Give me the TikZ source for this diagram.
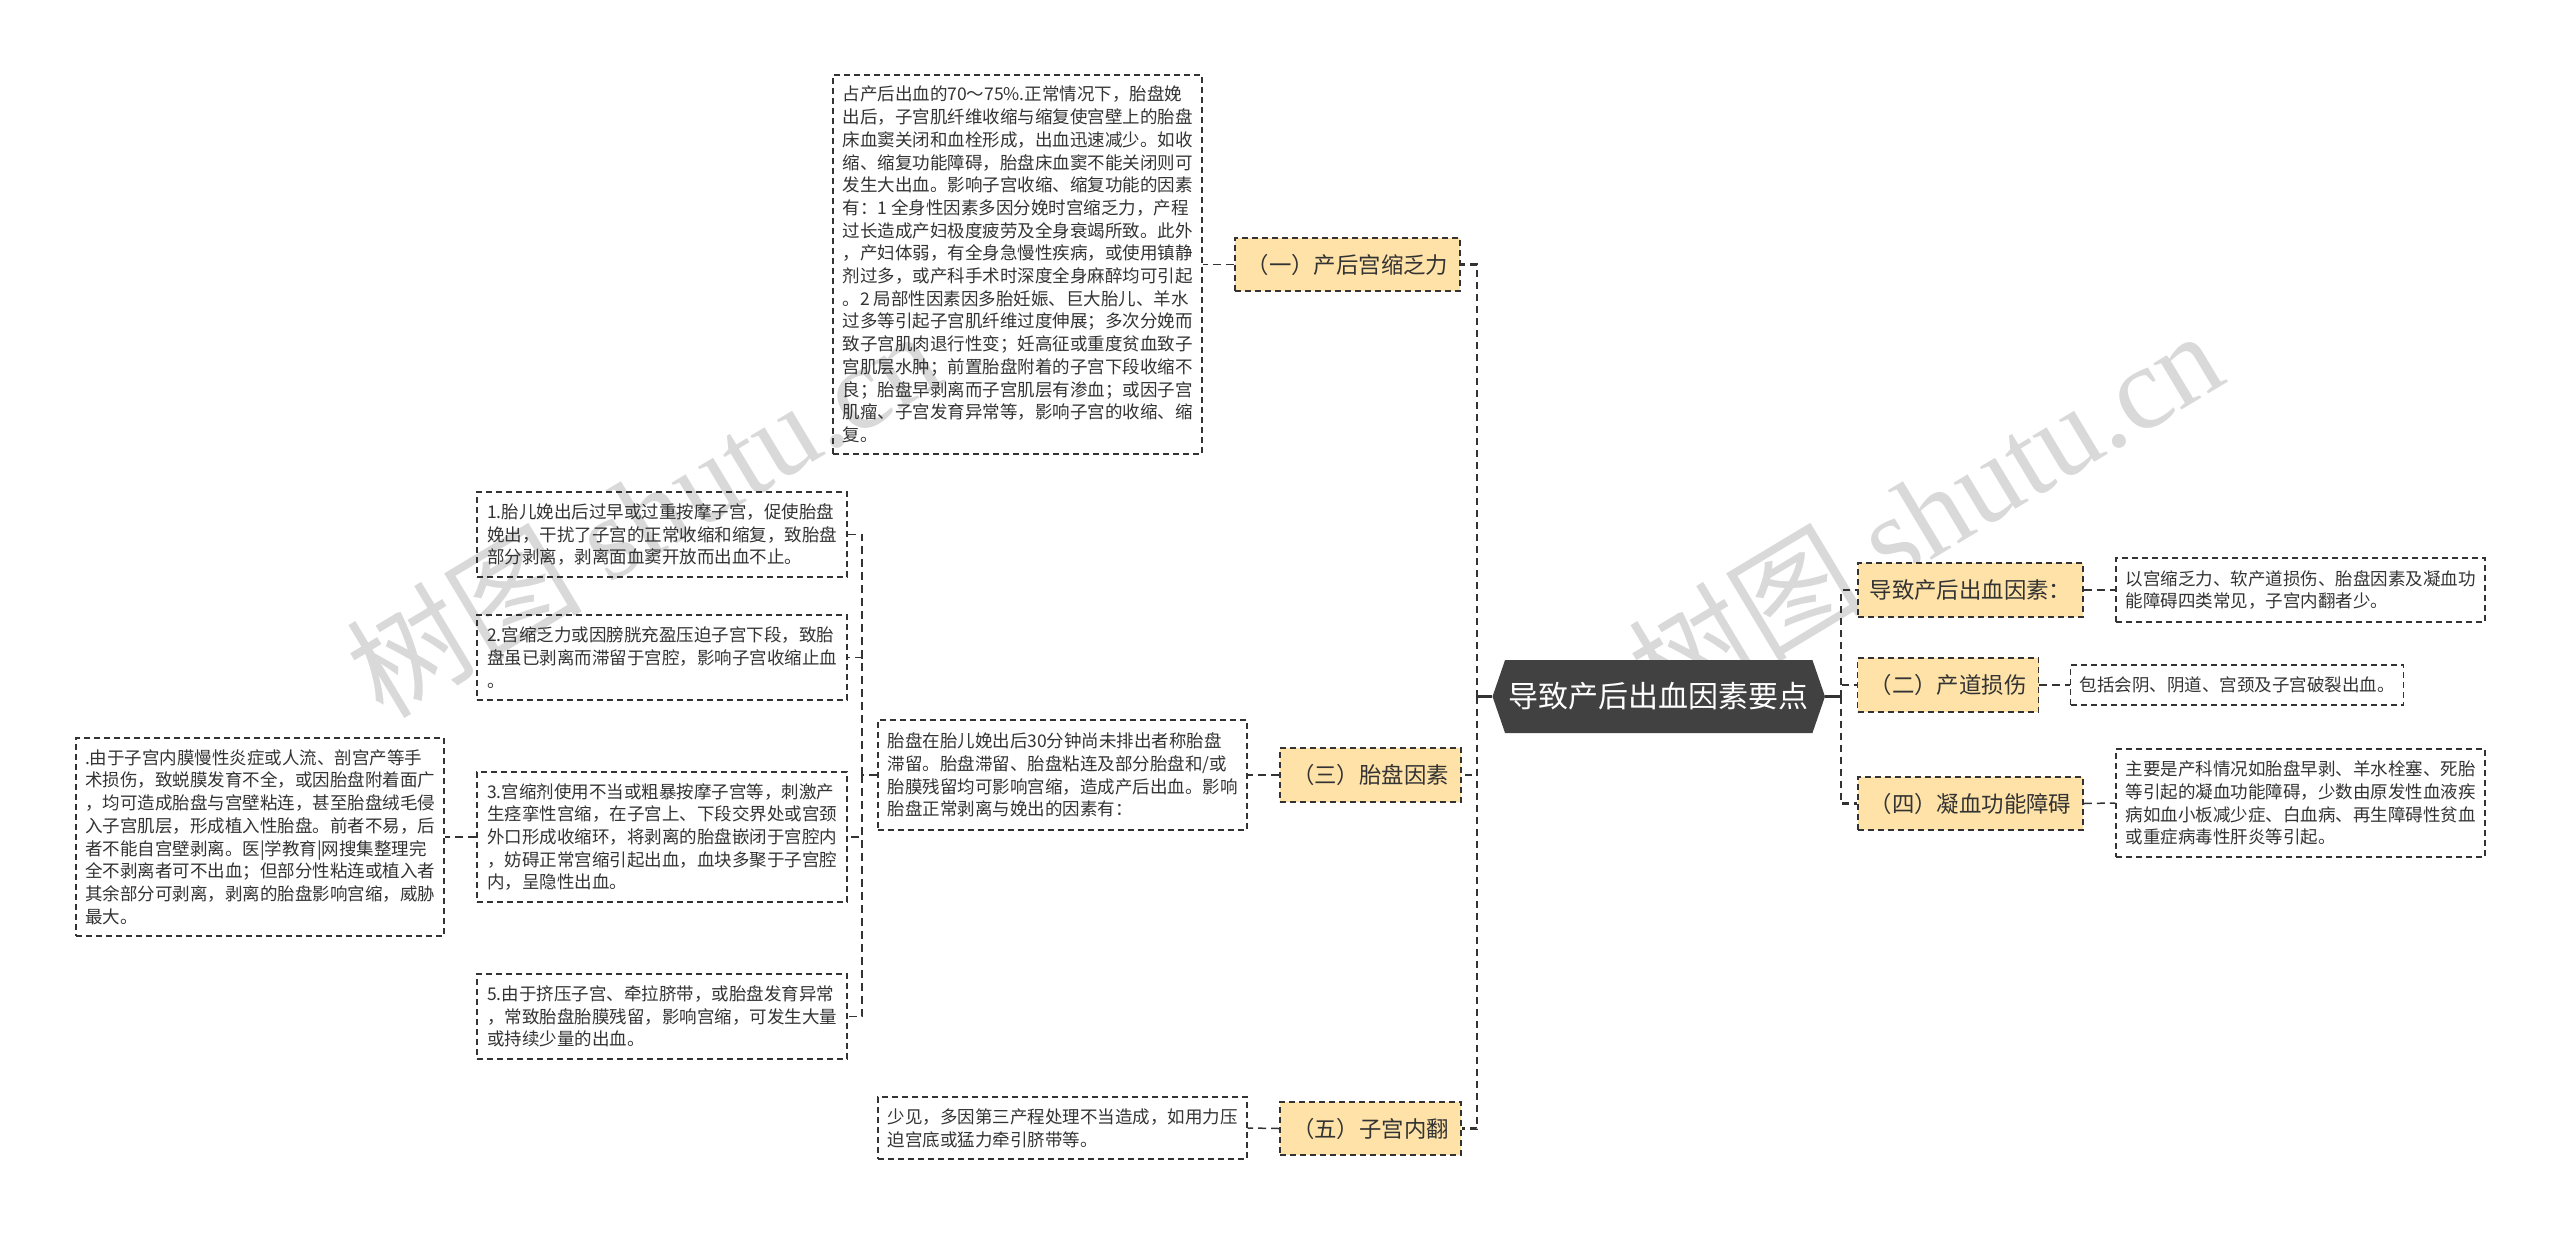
\documentclass[tikz,border=0pt]{standalone}
\usepackage{fontspec}
\setmainfont{Noto Sans CJK SC}
\newfontfamily\wmlatin{Liberation Serif}
\usetikzlibrary{shapes.symbols}
\definecolor{inkc}{HTML}{333333}
\definecolor{hexc}{HTML}{414141}
\definecolor{yelc}{HTML}{FEE2A8}
\definecolor{wmc}{HTML}{D9D9D9}
\tikzset{
    note/.style={draw=inkc, line width=1.3pt, dash pattern=on 6pt off 4pt, text=inkc, align=left, inner sep=0pt, font=\fontsize{17.5}{22.7}\selectfont},
    topic/.style={draw=inkc, fill=yelc, line width=1.8pt, dash pattern=on 6pt off 4pt, text=inkc, inner sep=0pt, font=\fontsize{22.4}{26}\selectfont},
    rootc/.style={signal, signal to=west and east, signal pointer angle=142, fill=hexc, text=white, inner sep=0pt, font=\fontsize{30}{34}\selectfont},
    lnkbig/.style={draw=inkc, line width=2.4pt, dash pattern=on 7pt off 5pt},
    lnksmall/.style={draw=inkc, line width=1.5pt, dash pattern=on 8pt off 5pt},
    lnkstub/.style={draw=inkc, line width=2.4pt},
    wmark/.style={text=wmc, rotate=31, inner sep=0pt, font=\fontsize{118}{120}\selectfont}
}
\begin{document}
\begin{tikzpicture}[x=1pt, y=-1pt]
    \useasboundingbox (0,0) rectangle (2560,1235);

    \node (wm1) at (643,512) [wmark] {树图 {\wmlatin shutu.cn}};
    \node (wm2) at (1925,512) [wmark] {树图 {\wmlatin shutu.cn}};

    \node (r0) at (1658.75,696.5) [rootc, minimum width=332.5, minimum height=73] {导致产后出血因素要点};

    \node (b1) at (1347.5,264.5) [topic, minimum width=225, minimum height=53] {（一）产后宫缩乏力};
    \node (b3) at (1370.5,775) [topic, minimum width=181, minimum height=54] {（三）胎盘因素};
    \node (b5) at (1370.5,1128.5) [topic, minimum width=181, minimum height=53] {（五）子宫内翻};
    \node (a1) at (1970.5,590) [topic, minimum width=225, minimum height=54] {导致产后出血因素：};
    \node (a2) at (1948,685) [topic, minimum width=181, minimum height=54] {（二）产道损伤};
    \node (a4) at (1970.5,803.5) [topic, minimum width=225, minimum height=53] {（四）凝血功能障碍};

    \node (t1) at (1017.5,264.5) [note, minimum width=369, minimum height=379] {占产后出血的70～75\%.正常情况下，胎盘娩\\出后，子宫肌纤维收缩与缩复使宫壁上的胎盘\\床血窦关闭和血栓形成，出血迅速减少。如收\\缩、缩复功能障碍，胎盘床血窦不能关闭则可\\发生大出血。影响子宫收缩、缩复功能的因素\\有：1 全身性因素多因分娩时宫缩乏力，产程\\过长造成产妇极度疲劳及全身衰竭所致。此外\\，产妇体弱，有全身急慢性疾病，或使用镇静\\剂过多，或产科手术时深度全身麻醉均可引起\\。2 局部性因素因多胎妊娠、巨大胎儿、羊水\\过多等引起子宫肌纤维过度伸展；多次分娩而\\致子宫肌肉退行性变；妊高征或重度贫血致子\\宫肌层水肿；前置胎盘附着的子宫下段收缩不\\良；胎盘早剥离而子宫肌层有渗血；或因子宫\\肌瘤、子宫发育异常等，影响子宫的收缩、缩\\复。};
    \node (t3) at (1062.5,775) [note, minimum width=369, minimum height=110] {胎盘在胎儿娩出后30分钟尚未排出者称胎盘\\滞留。胎盘滞留、胎盘粘连及部分胎盘和/或\\胎膜残留均可影响宫缩，造成产后出血。影响\\胎盘正常剥离与娩出的因素有：};
    \node (t5) at (1062.5,1128) [note, minimum width=369, minimum height=62] {少见，多因第三产程处理不当造成，如用力压\\迫宫底或猛力牵引脐带等。};

    \node (s1) at (662,534.5) [note, minimum width=370, minimum height=85] {1.胎儿娩出后过早或过重按摩子宫，促使胎盘\\娩出，干扰了子宫的正常收缩和缩复，致胎盘\\部分剥离，剥离面血窦开放而出血不止。};
    \node (s2) at (662,657.5) [note, minimum width=370, minimum height=85] {2.宫缩乏力或因膀胱充盈压迫子宫下段，致胎\\盘虽已剥离而滞留于宫腔，影响子宫收缩止血\\。};
    \node (s3) at (662,837) [note, minimum width=370, minimum height=130] {3.宫缩剂使用不当或粗暴按摩子宫等，刺激产\\生痉挛性宫缩，在子宫上、下段交界处或宫颈\\外口形成收缩环，将剥离的胎盘嵌闭于宫腔内\\，妨碍正常宫缩引起出血，血块多聚于子宫腔\\内，呈隐性出血。};
    \node (s5) at (662,1016.5) [note, minimum width=370, minimum height=85] {5.由于挤压子宫、牵拉脐带，或胎盘发育异常\\，常致胎盘胎膜残留，影响宫缩，可发生大量\\或持续少量的出血。};
    \node (s6) at (260,837) [note, minimum width=368, minimum height=198] {.由于子宫内膜慢性炎症或人流、剖宫产等手\\术损伤，致蜕膜发育不全，或因胎盘附着面广\\，均可造成胎盘与宫壁粘连，甚至胎盘绒毛侵\\入子宫肌层，形成植入性胎盘。前者不易，后\\者不能自宫壁剥离。医|学教育|网搜集整理完\\全不剥离者可不出血；但部分性粘连或植入者\\其余部分可剥离，剥离的胎盘影响宫缩，威胁\\最大。};

    \node (n1) at (2300.5,590) [note, minimum width=369, minimum height=64] {以宫缩乏力、软产道损伤、胎盘因素及凝血功\\能障碍四类常见，子宫内翻者少。};
    \node (n2) at (2237,685) [note, minimum width=333, minimum height=40] {包括会阴、阴道、宫颈及子宫破裂出血。};
    \node (n4) at (2300.5,803) [note, minimum width=369, minimum height=108] {主要是产科情况如胎盘早剥、羊水栓塞、死胎\\等引起的凝血功能障碍，少数由原发性血液疾\\病如血小板减少症、白血病、再生障碍性贫血\\或重症病毒性肝炎等引起。};

    \coordinate (jl) at (1477,696.5);
    \coordinate (jr) at (1841,696.5);
    \coordinate (js) at (862,775);

    \draw[lnkstub] (r0.west) -- (jl);
    \draw[lnkstub] (r0.east) -- (jr);
    \draw[lnkbig] (jl) |- (b1.east);
    \draw[lnkbig] (jl) |- (b3.east);
    \draw[lnkbig] (jl) |- (b5.east);
    \draw[lnkbig] (jr) |- (a1.west);
    \draw[lnkbig] (jr) |- (a2.west);
    \draw[lnkbig] (jr) |- (a4.west);

    \draw[lnksmall] (b1.west) -- (t1.east);
    \draw[lnksmall] (b3.west) -- (t3.east);
    \draw[lnksmall] (b5.west) -- (t5.east);
    \draw[lnksmall] (a1.east) -- (n1.west);
    \draw[lnksmall] (a2.east) -- (n2.west);
    \draw[lnksmall] (a4.east) -- (n4.west);

    \draw[lnksmall] (t3.west) -- (js);
    \draw[lnksmall] (js) |- (s1.east);
    \draw[lnksmall] (js) |- (s2.east);
    \draw[lnksmall] (js) |- (s3.east);
    \draw[lnksmall] (js) |- (s5.east);
    \draw[lnksmall] (s3.west) -- (s6.east);
\end{tikzpicture}
\end{document}
